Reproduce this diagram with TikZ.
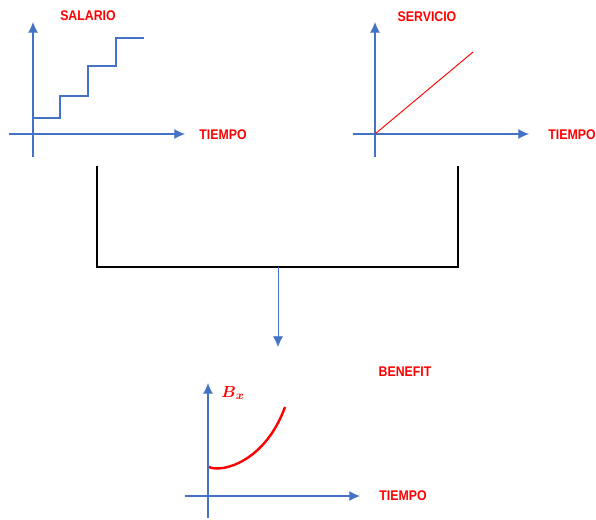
\documentclass[tikz,border=0pt]{standalone}
\usepackage{amsmath}
\usepackage{fontspec}
\setmainfont{Liberation Sans}
\newfontfamily\lab[FakeStretch=0.88]{Liberation Sans}
\usetikzlibrary{arrows.meta}
\definecolor{axblue}{HTML}{4472C4}
\definecolor{lred}{HTML}{FF0000}
\tikzset{
  axis/.style={draw=axblue, line width=0.9pt, -{Latex[length=8pt,width=7.5pt]}},
  lbl/.style={text=lred, font=\lab\bfseries\fontsize{10.5}{12}\selectfont, inner sep=0pt},
  bracket/.style={draw=black, line width=2.2pt, line cap=rect},
  link/.style={draw=axblue, line width=0.6pt, -{Latex[length=8pt,width=7.5pt]}},
  mathlbl/.style={text=lred, inner sep=0pt, font=\fontsize{12.5}{14}\selectfont},
}
\begin{document}
\begin{tikzpicture}[x=0.75pt,y=-0.75pt]
\useasboundingbox (0,0) rectangle (596,519);
% --- left chart
\coordinate (La) at (33,157); \coordinate (Lb) at (33,22);
\coordinate (Lc) at (9,134); \coordinate (Ld) at (185,134);
\draw[axis] (La) -- (Lb);
\draw[axis] (Lc) -- (Ld);
\coordinate (s0) at (33,118);
\draw[draw=axblue, line width=0.9pt] (s0) -- (60,118) -- (60,96) -- (88,96) -- (88,66) -- (116,66) -- (116,38) -- (144,38);
\node[lbl] (salario) at (88,16) {SALARIO};
\node[lbl] (t1) at (223,135) {TIEMPO};
% --- right chart
\coordinate (Ra) at (375,157); \coordinate (Rb) at (375,22);
\coordinate (Rc) at (353,134); \coordinate (Rd) at (529,134);
\draw[axis] (Ra) -- (Rb);
\draw[axis] (Rc) -- (Rd);
\coordinate (Ro) at (375,134); \coordinate (Re) at (473,52);
\draw[lred, line width=0.7pt] (Ro) -- (Re);
\node[lbl] (servicio) at (427,17) {SERVICIO};
\node[lbl] (t2) at (572,135) {TIEMPO};
% --- bracket
\coordinate (b1) at (97,167); \coordinate (b2) at (97,267);
\coordinate (b3) at (458,267); \coordinate (b4) at (458,167);
\draw[bracket] (b1) -- (b2) -- (b3) -- (b4);
\coordinate (m1) at (278,267); \coordinate (m2) at (278,347);
\draw[link] (m1) -- (m2);
% --- bottom chart
\coordinate (Ba) at (208,518); \coordinate (Bb) at (208,383);
\coordinate (Bc) at (185,496); \coordinate (Bd) at (360,496);
\draw[axis] (Ba) -- (Bb);
\draw[axis] (Bc) -- (Bd);
\coordinate (c0) at (209,467); \coordinate (c1) at (285,407);
\draw[lred, line width=1.8pt] (c0) .. controls (222,473) and (265,462) .. (c1);
\node[mathlbl] (bx) at (233,393) {$\boldsymbol{B}_{\boldsymbol{x}}$};
\node[lbl] (benefit) at (405,372) {BENEFIT};
\node[lbl] (t3) at (403,496) {TIEMPO};
\end{tikzpicture}
\end{document}
